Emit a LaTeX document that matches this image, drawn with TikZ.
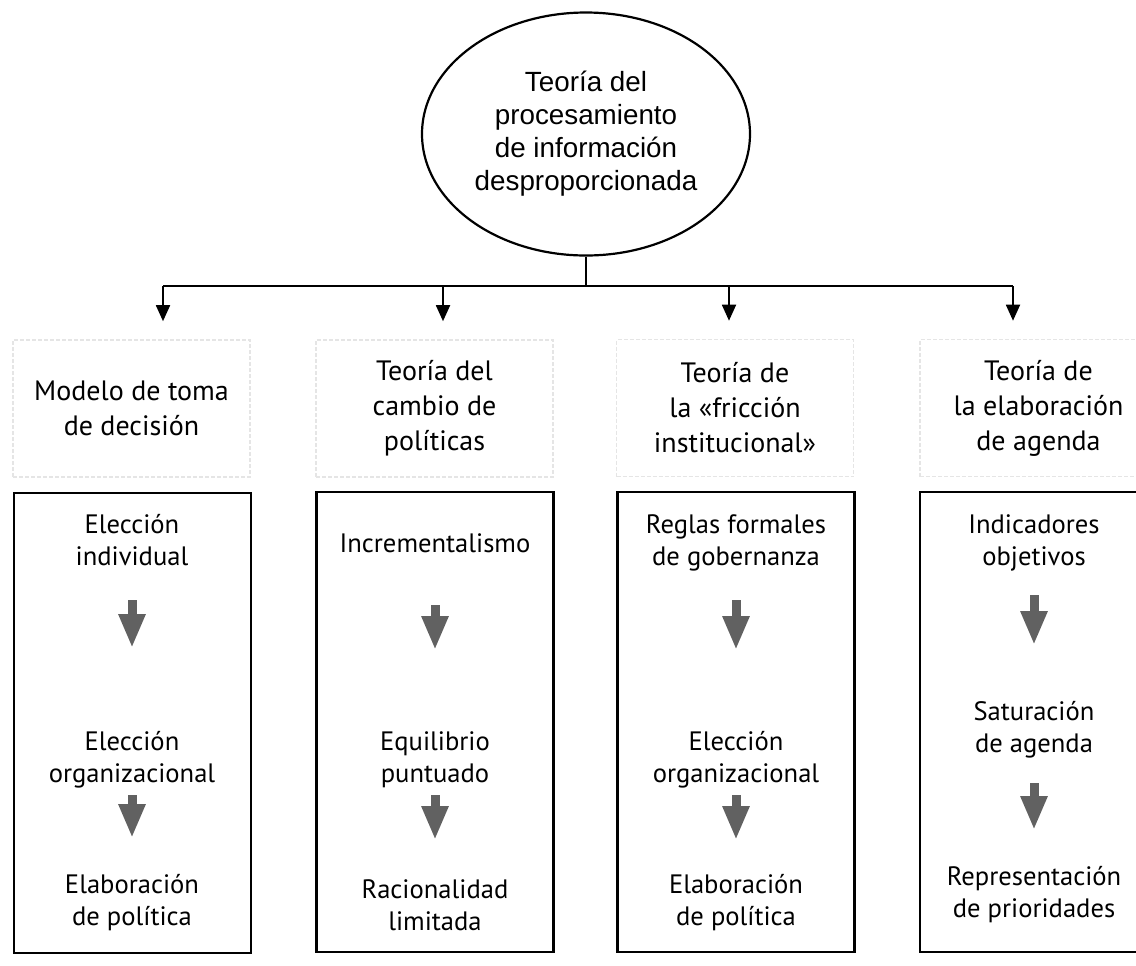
\documentclass[tikz,border=0pt]{standalone}
\usepackage{fontspec}
\setmainfont{PT Sans}
\newfontfamily\ellipsefont{Liberation Sans}
\usetikzlibrary{arrows.meta,shapes.geometric}
\tikzset{
  theory/.style={ellipse,draw,line width=1.1pt,minimum width=164pt,minimum height=121.5pt,
    inner sep=0pt,align=center,font=\ellipsefont\fontsize{13.9}{16.5}\selectfont},
  header/.style={draw=black!10,dash pattern=on 2pt off 1pt,line width=0.8pt,
    minimum width=118.5pt,minimum height=68.5pt,align=center,font=\fontsize{14}{17.5}\selectfont},
  panel/.style={draw,line width=1.1pt,minimum width=118.5pt,minimum height=230pt},
  item/.style={align=center,font=\fontsize{13.3}{16}\selectfont},
  bus/.style={line width=0.9pt},
  drop/.style={bus,-{Triangle[width=7pt,length=8pt]},shorten >=9pt},
  flow/.style={line width=4.5pt,draw=black!62,-{Triangle[width=12.5pt,length=17pt,fill=black!62]}},
}

\begin{document}
\begin{tikzpicture}[x=0.5pt,y=-0.5pt]
\useasboundingbox (0,0) rectangle (1136,965);
\node[theory] (root) at (586,134) {Teoría del\\procesamiento\\de información\\desproporcionada};
\node[header] (hd1) at (131.5,408.5) {Modelo de toma\\de decisión};
\node[header] (hd2) at (434.5,408.5) {Teoría del\\cambio de\\políticas};
\node[header] (hd3) at (735,408) {Teoría de\\la «fricción\\institucional»};
\node[header] (hd4) at (1038.5,408) {Teoría de\\la elaboración\\de agenda};
\node[panel] (pn1) at (132.5,723) {};
\node[panel] (pn2) at (435,722) {};
\node[panel] (pn3) at (736,722) {};
\node[panel] (pn4) at (1038.5,722) {};
\coordinate (j1) at (163,286);
\coordinate (j2) at (443,286);
\coordinate (j3) at (729,286);
\coordinate (j4) at (1013,286);
\draw[bus] (root.south) -- (root.south |- j1);
\draw[bus] (j1) -- (j4);
\draw[drop] (j1) -- (j1 |- hd1.north);
\draw[drop] (j2) -- (j2 |- hd2.north);
\draw[drop] (j3) -- (j3 |- hd3.north);
\draw[drop] (j4) -- (j4 |- hd4.north);
\node[item] (i11) at (132,540) {Elección\\individual};
\node[item] (i12) at (132,760) {Elección\\organizacional};
\node[item] (i13) at (132,903) {Elaboración\\de política};
\node[item] (i21) at (435,543) {Incrementalismo};
\node[item] (i22) at (435,760) {Equilibrio\\puntuado};
\node[item] (i23) at (435,905) {Racionalidad\\limitada};
\node[item] (i31) at (736,543) {Reglas formales\\de gobernanza};
\node[item] (i32) at (736,760) {Elección\\organizacional};
\node[item] (i33) at (736,903) {Elaboración\\de política};
\node[item] (i41) at (1034,543) {Indicadores\\objetivos};
\node[item] (i42) at (1034,730) {Saturación\\de agenda};
\node[item] (i43) at (1034,895) {Representación\\de prioridades};
\draw[flow,shorten <=30pt,shorten >=56pt] (i11.center) -- (i12.center);
\draw[flow,shorten <=17.5pt,shorten >=32.5pt] (i12.center) -- (i13.center);
\draw[flow,shorten <=31pt,shorten >=55pt] (i21.center) -- (i22.center);
\draw[flow,shorten <=17.5pt,shorten >=32.5pt] (i22.center) -- (i23.center);
\draw[flow,shorten <=28.5pt,shorten >=55pt] (i31.center) -- (i32.center);
\draw[flow,shorten <=17.5pt,shorten >=31.5pt] (i32.center) -- (i33.center);
\draw[flow,shorten <=26pt,shorten >=42.5pt] (i41.center) -- (i42.center);
\draw[flow,shorten <=26.5pt,shorten >=32.5pt] (i42.center) -- (i43.center);
\end{tikzpicture}
\end{document}
